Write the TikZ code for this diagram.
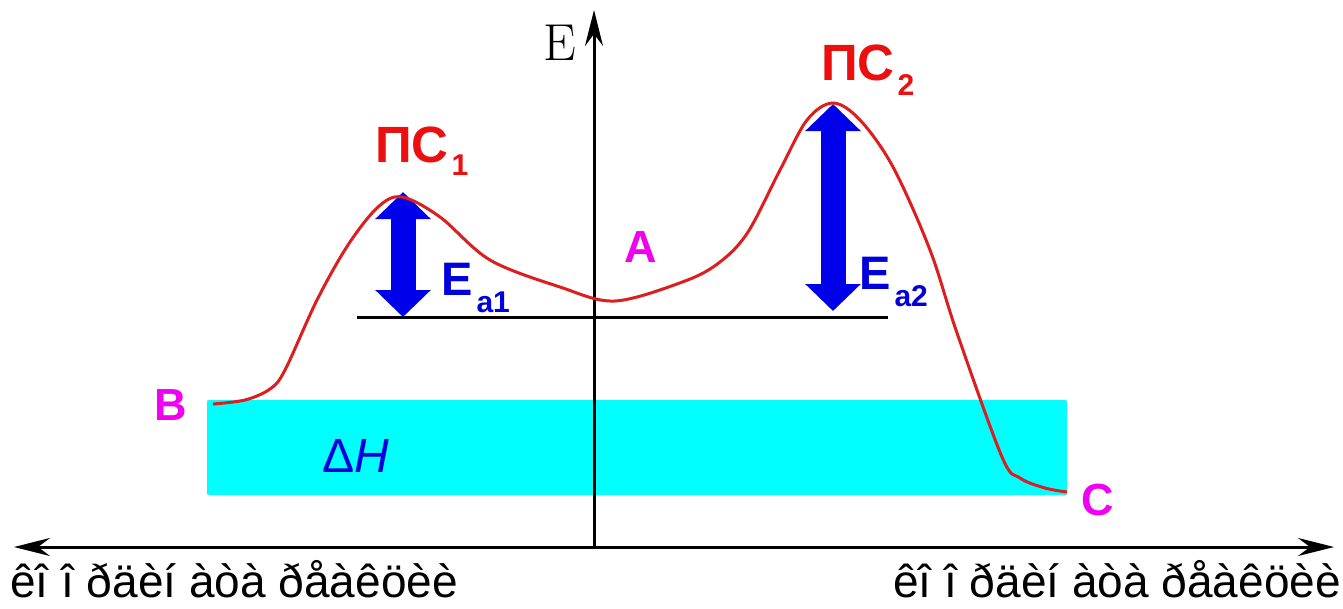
\documentclass[tikz,border=0pt]{standalone}
\usepackage{fontspec}
\newfontfamily\labelfont{Liberation Sans}
\usetikzlibrary{arrows.meta}
\definecolor{pathred}{RGB}{220,30,30}
\definecolor{tsred}{RGB}{235,15,15}
\definecolor{arrowblue}{RGB}{0,0,235}
\definecolor{labelblue}{RGB}{0,0,220}
\definecolor{pointmag}{RGB}{240,0,240}
\definecolor{shiftcyan}{RGB}{0,255,255}

\begin{document}
\begin{tikzpicture}[
  x=1pt, y=-1pt,
  axis/.style={line width=3pt, black},
  curve/.style={line width=3pt, draw=pathred, line join=round},
  barrier/.style={
    line width=25pt,
    draw=arrowblue,
    arrows={Triangle[length=27pt,width=54pt]-Triangle[length=27pt,width=54pt]}
  },
  tsname/.style={
    anchor=base west,
    inner sep=0pt,
    text=tsred,
    font=\labelfont\bfseries\fontsize{51}{51}\selectfont
  },
  enlabel/.style={
    anchor=base west,
    inner sep=0pt,
    text=labelblue,
    font=\labelfont\bfseries\fontsize{47}{47}\selectfont
  },
  tag/.style={
    anchor=base west,
    inner sep=0pt,
    text=pointmag,
    font=\labelfont\bfseries\fontsize{45}{45}\selectfont
  },
  axlabel/.style={
    anchor=base west,
    inner sep=0pt,
    font=\labelfont\fontsize{46}{46}\selectfont
  }
]
\useasboundingbox (0,0) rectangle (1343,608);

% enthalpy band
\fill[shiftcyan, draw=black!25, rounded corners=2pt] (207,400) rectangle (1067,495);
\node[anchor=base west, inner sep=0pt, text=labelblue,
  font=\labelfont\fontsize{48}{48}\selectfont] (dh) at (322,472) {Δ\textit{H}};

% axes
\coordinate (o) at (594,548);
\coordinate (etop) at (594,10);
\coordinate (xl) at (14,547);
\coordinate (xr) at (1334,547);
\draw[axis, -{Stealth[length=36pt,width=18pt,inset=12pt]}] (o) -- (etop);
\draw[axis, {Stealth[length=36pt,width=18pt,inset=12pt]}-{Stealth[length=36pt,width=18pt,inset=12pt]}] (xl) -- (xr);
\node[anchor=base west, inner sep=0pt, font=\fontsize{52}{52}\selectfont] (elab) at (543,60) {E};
\node[axlabel] (rcl) at (10,597) {êî î ðäèí àòà ðåàêöèè};
\node[axlabel] (rcr) at (893,597) {êî î ðäèí àòà ðåàêöèè};

% level of A
\coordinate (lvl1) at (357,317);
\coordinate (lvl2) at (888,317);
\draw[line width=3pt] (lvl1) -- (lvl2);

% activation energies
\coordinate (ts1top) at (403,192);
\coordinate (ts1bot) at (403,317);
\coordinate (ts2top) at (833,104);
\coordinate (ts2bot) at (833,311);
\draw[barrier] (ts1bot) -- (ts1top);
\draw[barrier] (ts2bot) -- (ts2top);

% reaction path
\draw[curve] plot[smooth, tension=0.55] coordinates {
  (213,404) (245,400) (270,389) (285,370) (317,300) (348,245) (378,207)
  (402,197) (440,217) (490,260) (560,287) (615,301) (685,281) (720,262)
  (748,232) (780,170) (807,120) (833,103) (860,120) (893,167) (930,250)
  (957,333) (1002,457) (1020,478) (1045,488) (1067,492)};

% labels
\node[tsname] (ts1) at (375,162) {ПС\hspace{3pt}\raisebox{-13pt}{\fontsize{30}{30}\selectfont 1}};
\node[tsname] (ts2) at (821,80) {ПС\hspace{3pt}\raisebox{-15pt}{\fontsize{30}{30}\selectfont 2}};
\node[enlabel] (ea1) at (441,295) {E\hspace{4pt}\raisebox{-17pt}{\fontsize{30}{30}\selectfont a1}};
\node[enlabel] (ea2) at (859,289) {E\hspace{4pt}\raisebox{-17pt}{\fontsize{30}{30}\selectfont a2}};
\node[tag] (pa) at (624,262) {A};
\node[tag] (pb) at (154,420) {B};
\node[tag] (pc) at (1081,515) {C};
\end{tikzpicture}
\end{document}
